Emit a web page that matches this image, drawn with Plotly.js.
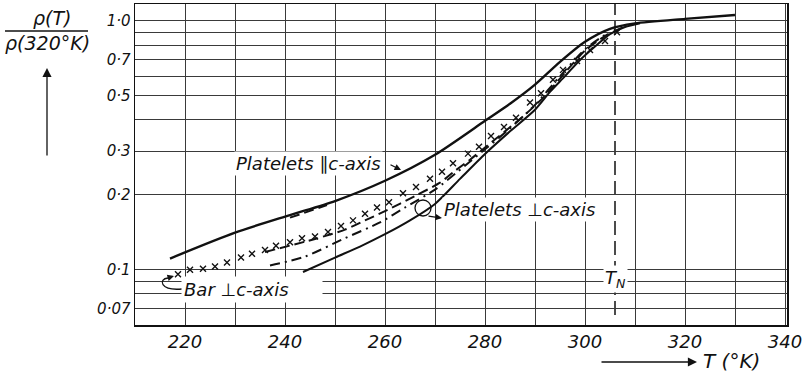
<!DOCTYPE html>
<html>
<head>
<meta charset="utf-8">
<script src="https://cdn.plot.ly/plotly-3.0.1.min.js"></script>
<style>
  html, body { margin: 0; padding: 0; background: #fff; }
  #chart { width: 806px; height: 378px; }
</style>
</head>
<body>
<div id="chart"></div>
<script>
// Relative resistivity rho(T)/rho(320 K) against temperature

// Platelets parallel to c-axis (solid, upper)
const T_par   = [217, 230, 241, 250, 260, 270, 280, 285, 290, 295, 300, 305, 310, 320, 330];
const rho_par = [0.111, 0.141, 0.166, 0.189, 0.228, 0.290, 0.397, 0.465, 0.555, 0.685, 0.825, 0.930, 0.978, 1.020, 1.057];

// Bar perpendicular to c-axis (crosses)
const T_bar   = [218.6, 221.0, 223.6, 226.0, 228.4, 231.2, 233.4, 236.0, 238.2, 241.0, 243.4, 246.0,
                 248.6, 251.2, 253.6, 256.0, 258.4, 260.8, 263.6, 266.2, 269.0, 271.4, 273.6, 276.6,
                 278.8, 281.2, 283.8, 286.2, 289.0, 291.2, 293.6, 295.6, 298.4, 301.0, 304.0, 306.4];
const rho_bar = [0.096, 0.100, 0.101, 0.103, 0.107, 0.112, 0.116, 0.120, 0.125, 0.129, 0.134, 0.136,
                 0.142, 0.150, 0.158, 0.168, 0.178, 0.187, 0.203, 0.215, 0.232, 0.248, 0.268, 0.293,
                 0.312, 0.345, 0.375, 0.408, 0.470, 0.512, 0.580, 0.636, 0.690, 0.765, 0.830, 0.900];

// Platelets perpendicular to c-axis: dashed sample
const T_dash   = [236, 246, 252, 256, 260, 266, 271, 274, 277, 280, 284, 288, 292, 296, 300, 304, 308];
const rho_dash = [0.118, 0.133, 0.145, 0.158, 0.172, 0.198, 0.224, 0.250, 0.277, 0.310, 0.360, 0.420, 0.500, 0.620, 0.760, 0.870, 0.950];

// short dashed run just under the parallel curve
const T_dash2   = [241, 248.4];
const rho_dash2 = [0.162, 0.182];

// Platelets perpendicular to c-axis: dash-dot sample
const T_dd   = [237, 244, 252, 259, 264, 270, 276, 280, 285, 290, 295, 300, 304];
const rho_dd = [0.104, 0.113, 0.134, 0.155, 0.178, 0.210, 0.262, 0.305, 0.370, 0.460, 0.600, 0.770, 0.880];

// Platelets perpendicular to c-axis: solid sample (lower)
const T_low   = [243.6, 250, 255, 260, 265, 270, 275, 280, 285, 290, 293, 296, 299, 302, 305, 308, 311];
const rho_low = [0.098, 0.112, 0.124, 0.139, 0.158, 0.184, 0.232, 0.292, 0.360, 0.440, 0.519, 0.600, 0.697, 0.790, 0.886, 0.946, 0.980];

// Neel temperature
const T_N = 306;

// axis ticks and grid positions
const xTickVals = [210, 220, 230, 240, 250, 260, 270, 280, 290, 300, 310, 320, 330, 340];
const xTickText = ['', '220', '', '240', '', '260', '', '280', '', '300', '', '320', '', '340'];
const yTickVals = [0.06, 0.07, 0.08, 0.09, 0.1, 0.2, 0.3, 0.4, 0.5, 0.6, 0.7, 0.8, 0.9, 1.0];
const yTickText = ['', '0·07', '', '', '0·1', '0·2', '0·3', '', '0·5', '', '0·7', '', '', '1·0'];

const FONT = 'DejaVu Sans, Liberation Sans, sans-serif';
const INK = '#111';

// pixel helpers for decorations around the plotting area (l=135, t=4, w=652, h=321)
const PL = 135, PT = 4, PW = 652, PH = 321;
const px = x => (x - PL) / PW;
const py = y => (PT + PH - y) / PH;

const traces = [
  { x: T_par, y: rho_par, mode: 'lines', line: { color: INK, width: 2.4, shape: 'spline', smoothing: 0.7 } },
  { x: T_low, y: rho_low, mode: 'lines', line: { color: INK, width: 2, shape: 'spline', smoothing: 0.7 } },
  { x: T_dash, y: rho_dash, mode: 'lines', line: { color: INK, width: 2, dash: '10px,5px', shape: 'spline', smoothing: 0.7 } },
  { x: T_dash2, y: rho_dash2, mode: 'lines', line: { color: INK, width: 2, dash: '10px,5px' } },
  { x: T_dd, y: rho_dd, mode: 'lines', line: { color: INK, width: 2, dash: '10px,5px,2px,5px', shape: 'spline', smoothing: 0.7 } },
  { x: T_bar, y: rho_bar, mode: 'markers', marker: { symbol: 'x-thin', size: 6, line: { color: INK, width: 1.4 } } }
];

const labelFont = { family: FONT, size: 18, style: 'italic', color: INK };

// text placed by pixel centre
function label(x, y, text, font, extra) {
  return Object.assign({
    xref: 'paper', yref: 'paper', x: px(x), y: py(y), text: text, showarrow: false,
    xanchor: 'center', yanchor: 'middle', font: font
  }, extra || {});
}
// bare arrow from (x - ax, y - ay) to (x, y)
function arrow(x, y, ax, ay, size) {
  return {
    xref: 'paper', yref: 'paper', x: px(x), y: py(y), ax: ax, ay: ay, text: '', showarrow: true,
    arrowhead: 2, arrowsize: size || 1, arrowwidth: 1.3, arrowcolor: INK
  };
}

const annotations = [
  // curve labels
  label(308, 163, 'Platelets ∥c-axis', labelFont, { bgcolor: '#fff', borderpad: 1 }),
  arrow(401, 170, -12, -6),
  label(519, 209, 'Platelets ⊥c-axis', labelFont, { bgcolor: '#fff', borderpad: 1 }),
  arrow(442, 218, -15, -2),
  label(252, 289, 'Bar ⊥c-axis', labelFont, { bgcolor: '#fff', borderpad: 2, width: 136, align: 'left' }),
  arrow(174, 276, -7, 2),
  // Neel temperature label
  { xref: 'x', yref: 'paper', x: T_N, y: py(279), text: 'T<sub>N</sub>', showarrow: false,
    xanchor: 'center', yanchor: 'middle', font: labelFont, bgcolor: '#fff', borderpad: 1 },
  // y-axis title as a fraction with an upward arrow
  label(52, 18, 'ρ(T)', { family: FONT, size: 19, style: 'italic', color: INK }),
  label(47, 43, 'ρ(320°K)', { family: FONT, size: 19, style: 'italic', color: INK }),
  arrow(47, 68, 0, 89, 1.4),
  // x-axis title with a rightward arrow
  arrow(697, 362, -97, 0, 1.4),
  label(731, 361, 'T (°K)', { family: FONT, size: 20, style: 'italic', color: INK })
];

const shapes = [
  // fraction bar of the y title
  { type: 'line', xref: 'paper', yref: 'paper', x0: px(5), x1: px(88), y0: py(31), y1: py(31),
    line: { color: INK, width: 1.3 } },
  // Neel temperature marker
  { type: 'line', xref: 'x', yref: 'paper', x0: T_N, x1: T_N, y0: py(315), y1: 1,
    line: { color: INK, width: 1.5, dash: '14px,6px' }, layer: 'below' },
  // circle grouping the perpendicular platelet curves
  { type: 'circle', xref: 'paper', yref: 'paper', x0: px(415), x1: px(431), y0: py(216), y1: py(200),
    line: { color: INK, width: 1.3 } },
  // hook leading to the bar label arrow
  { type: 'path', xref: 'paper', yref: 'paper',
    path: `M ${px(182)} ${py(289)} C ${px(160)} ${py(291)} ${px(158)} ${py(279)} ${px(168)} ${py(278)}`,
    line: { color: INK, width: 1.3 } }
];

const axisCommon = {
  showgrid: true, gridcolor: '#3a3a3a', gridwidth: 1,
  showline: true, linecolor: INK, linewidth: 1.5, mirror: true,
  ticks: '', zeroline: false, tickmode: 'array'
};

const layout = {
  width: 806, height: 378,
  margin: { l: PL, r: 806 - PL - PW, t: PT, b: 378 - PT - PH },
  paper_bgcolor: '#fff', plot_bgcolor: '#fff',
  showlegend: false,
  xaxis: Object.assign({}, axisCommon, {
    range: [210, 340.4], tickvals: xTickVals, ticktext: xTickText,
    tickfont: { family: FONT, size: 18, style: 'italic', color: INK }
  }),
  yaxis: Object.assign({}, axisCommon, {
    type: 'log', range: [Math.log10(0.06), Math.log10(1.17)],
    tickvals: yTickVals, ticktext: yTickText,
    tickfont: { family: FONT, size: 15, style: 'italic', color: INK }
  }),
  annotations: annotations,
  shapes: shapes
};

Plotly.newPlot('chart', traces, layout, { staticPlot: true, displayModeBar: false });
</script>
</body>
</html>
